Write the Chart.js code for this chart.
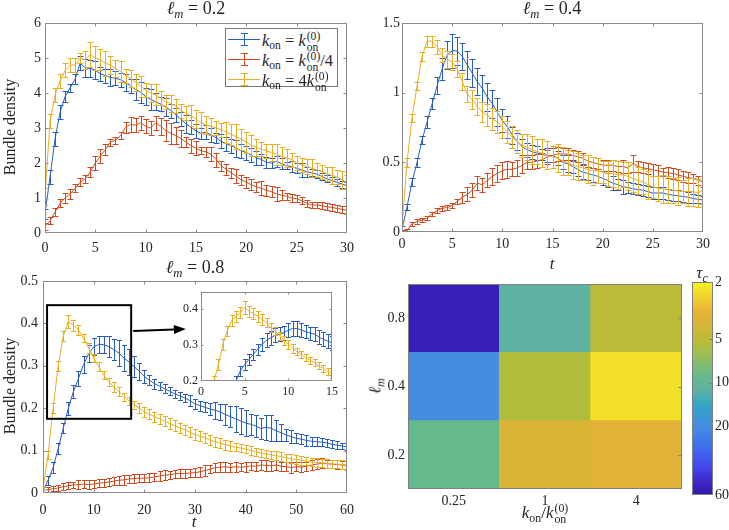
<!DOCTYPE html>
<html><head><meta charset="utf-8">
<script src="https://cdn.jsdelivr.net/npm/chart.js@4.4.1/dist/chart.umd.min.js"></script>
<style>
html,body{margin:0;padding:0;background:#fff;}
body{width:729px;height:530px;position:relative;overflow:hidden;font-family:"Liberation Serif","DejaVu Serif",serif;color:#262626;}
canvas{position:absolute;}
.lbl{position:absolute;transform:translate(-50%,-50%);white-space:nowrap;font-size:18px;line-height:1;}
.rot{transform:translate(-50%,-50%) rotate(-90deg);}
.sb{font-size:0.7em;position:relative;top:0.3em;}
.sbi{font-size:0.7em;position:relative;top:0.3em;font-style:italic;}
.sst{display:inline-block;font-size:0.7em;line-height:0.92;vertical-align:-0.42em;margin-left:1px;}
.sst span{display:block;}
#legend{position:absolute;left:225px;top:28px;width:111px;height:57px;border:1px solid #777;background:#fff;}
#legend .it{position:absolute;left:36px;font-size:16.5px;line-height:1;white-space:nowrap;}
#legend svg{position:absolute;left:2px;}
</style>
</head><body>
<canvas id="c1" width="365" height="260" style="left:0;top:0;width:365px;height:260px"></canvas>
<canvas id="c2" width="364" height="260" style="left:365px;top:0;width:364px;height:260px"></canvas>
<canvas id="c3" width="365" height="270" style="left:0;top:260px;width:365px;height:270px"></canvas>
<canvas id="c4" width="175" height="120" style="left:170px;top:280px;width:175px;height:120px"></canvas>
<canvas id="c5" width="330" height="270" style="left:365px;top:260px;width:330px;height:270px"></canvas>
<canvas id="c6" width="49" height="270" style="left:680px;top:260px;width:49px;height:270px"></canvas>

<div class="lbl" style="left:196px;top:8px"><i>ℓ</i><span class="sbi">m</span> = 0.2</div>
<div class="lbl" style="left:552px;top:8px"><i>ℓ</i><span class="sbi">m</span> = 0.4</div>
<div class="lbl" style="left:195px;top:267px"><i>ℓ</i><span class="sbi">m</span> = 0.8</div>
<div class="lbl rot" style="left:10px;top:127px;font-size:16px">Bundle density</div>
<div class="lbl rot" style="left:10px;top:386px;font-size:16px">Bundle density</div>
<div class="lbl" style="left:194px;top:521px;font-style:italic;font-size:17px">t</div>
<div class="lbl" style="left:552px;top:263px;font-style:italic;font-size:17px">t</div>
<div class="lbl rot" style="left:375px;top:386px;font-size:17px"><i>ℓ</i><span class="sbi">m</span></div>
<div class="lbl" style="left:545px;top:514px;font-size:17px"><i>k</i><span class="sb">on</span>/<i>k</i><span class="sst"><span>(0)</span><span>on</span></span></div>
<div class="lbl" style="left:702px;top:272px;font-size:17px"><i>τ</i><span class="sbi">c</span></div>

<div id="legend">
  <svg width="32" height="16" style="top:2px"><line x1="0" y1="8.5" x2="32" y2="8.5" stroke="rgb(40,95,190)"/><line x1="16.5" y1="2" x2="16.5" y2="15" stroke="rgb(40,95,190)"/><line x1="13" y1="2.5" x2="20" y2="2.5" stroke="rgb(40,95,190)"/><line x1="13" y1="14.5" x2="20" y2="14.5" stroke="rgb(40,95,190)"/></svg>
  <div class="it" style="top:2px"><i>k</i><span class="sb">on</span> = <i>k</i><span class="sst"><span>(0)</span><span>on</span></span></div>
  <svg width="32" height="16" style="top:22px"><line x1="0" y1="8.5" x2="32" y2="8.5" stroke="rgb(205,75,30)"/><line x1="16.5" y1="2" x2="16.5" y2="15" stroke="rgb(205,75,30)"/><line x1="13" y1="2.5" x2="20" y2="2.5" stroke="rgb(205,75,30)"/><line x1="13" y1="14.5" x2="20" y2="14.5" stroke="rgb(205,75,30)"/></svg>
  <div class="it" style="top:22px"><i>k</i><span class="sb">on</span> = <i>k</i><span class="sst"><span>(0)</span><span>on</span></span>/4</div>
  <svg width="32" height="16" style="top:42px"><line x1="0" y1="8.5" x2="32" y2="8.5" stroke="rgb(232,175,35)"/><line x1="16.5" y1="2" x2="16.5" y2="15" stroke="rgb(232,175,35)"/><line x1="13" y1="2.5" x2="20" y2="2.5" stroke="rgb(232,175,35)"/><line x1="13" y1="14.5" x2="20" y2="14.5" stroke="rgb(232,175,35)"/></svg>
  <div class="it" style="top:42px"><i>k</i><span class="sb">on</span> = 4<i>k</i><span class="sst"><span>(0)</span><span>on</span></span></div>
</div>

<script>
// ================= DATA =================
const tHalf = [0,0.5,1,1.5,2,2.5,3,3.5,4,4.5,5,5.5,6,6.5,7,7.5,8,8.5,9,9.5,10,10.5,11,11.5,12,12.5,13,13.5,14,14.5,15,15.5,16,16.5,17,17.5,18,18.5,19,19.5,20,20.5,21,21.5,22,22.5,23,23.5,24,24.5,25,25.5,26,26.5,27,27.5,28,28.5,29,29.5,30];
const tOne = [0,1,2,3,4,5,6,7,8,9,10,11,12,13,14,15,16,17,18,19,20,21,22,23,24,25,26,27,28,29,30,31,32,33,34,35,36,37,38,39,40,41,42,43,44,45,46,47,48,49,50,51,52,53,54,55,56,57,58,59,60];
const tInset = [0,0.5,1,1.5,2,2.5,3,3.5,4,4.5,5,5.5,6,6.5,7,7.5,8,8.5,9,9.5,10,10.5,11,11.5,12,12.5,13,13.5,14,14.5,15];

// panel l_m = 0.2
const blue02 = [0.55,1.6, 2.7,3.45, 3.9,4.15, 4.4,4.85, 4.72,4.7, 4.65,4.55, 4.5,4.45, 4.42,4.38, 4.3,4.2, 4.1,4.02, 3.9,3.82, 3.75,3.68, 3.6,3.5, 3.38,3.25, 3.12,3.02, 2.92,2.85, 2.88,2.8, 2.72,2.62, 2.55,2.5, 2.42,2.35, 2.3,2.22, 2.15,2.1, 2.02,2.0, 2.05,1.98, 1.92,1.9, 1.85,1.8, 1.75,1.72, 1.68,1.62, 1.55,1.5, 1.45,1.4, 1.35];
const blue02Err = [0.15,0.2, 0.2,0.2, 0.15,0.12, 0.15,0.2, 0.25,0.25, 0.25,0.2, 0.2,0.25, 0.2,0.2, 0.25,0.2, 0.3,0.3, 0.25,0.3, 0.25,0.2, 0.25,0.2, 0.2,0.2, 0.25,0.2, 0.2,0.15, 0.2,0.2, 0.15,0.2, 0.2,0.2, 0.25,0.2, 0.2,0.2, 0.2,0.15, 0.15,0.15, 0.15,0.15, 0.1,0.15, 0.15,0.2, 0.15,0.1, 0.12,0.1, 0.1,0.1, 0.1,0.1, 0.1];
const red02 = [0.2,0.35, 0.6,0.85, 1.0,1.12, 1.28,1.45, 1.55,1.75, 2.0,2.2, 2.38,2.6, 2.65,2.78, 3.02,3.1, 3.08,3.15, 3.05,3.0, 3.15,3.05, 2.92,2.85, 2.78,2.7, 2.6,2.5, 2.42,2.35, 2.32,2.25, 2.1,1.92, 1.82,1.72, 1.62,1.52, 1.45,1.38, 1.32,1.28, 1.22,1.18, 1.12,1.08, 1.05,1.0, 0.98,0.92, 0.85,0.8, 0.8,0.78, 0.75,0.73, 0.7,0.68, 0.65];
const red02Err = [0.1,0.1, 0.12,0.12, 0.15,0.15, 0.12,0.12, 0.12,0.15, 0.2,0.2, 0.15,0.1, 0.1,0.1, 0.15,0.2, 0.2,0.2, 0.2,0.2, 0.2,0.25, 0.3,0.3, 0.25,0.25, 0.15,0.2, 0.2,0.1, 0.15,0.2, 0.2,0.15, 0.15,0.15, 0.2,0.15, 0.15,0.15, 0.15,0.2, 0.15,0.15, 0.2,0.15, 0.1,0.12, 0.1,0.1, 0.1,0.08, 0.08,0.1, 0.1,0.1, 0.1,0.1, 0.12];
const yellow02 = [1.05,3.2, 3.95,4.35, 4.65,4.8, 4.8,5.0, 4.95,5.1, 5.0,4.95, 4.85,4.8, 4.7,4.62, 4.5,4.42, 4.3,4.2, 4.08,4.0, 3.95,3.85, 3.75,3.7, 3.62,3.5, 3.42,3.35, 3.25,3.15, 3.08,3.05, 3.0,2.95, 2.88,2.82, 2.75,2.68, 2.6,2.5, 2.45,2.4, 2.35,2.3, 2.25,2.2, 2.15,2.1, 2.0,1.95, 1.9,1.85, 1.8,1.75, 1.7,1.65, 1.6,1.52, 1.45];
const yellow02Err = [0.25,0.2, 0.2,0.2, 0.2,0.2, 0.2,0.15, 0.25,0.35, 0.35,0.3, 0.35,0.25, 0.25,0.3, 0.2,0.25, 0.25,0.3, 0.2,0.25, 0.3,0.2, 0.2,0.25, 0.2,0.2, 0.2,0.3, 0.25,0.3, 0.25,0.25, 0.2,0.2, 0.3,0.3, 0.35,0.3, 0.3,0.3, 0.25,0.2, 0.2,0.25, 0.3,0.25, 0.25,0.2, 0.2,0.2, 0.2,0.25, 0.2,0.2, 0.2,0.25, 0.2,0.25, 0.2];

// panel l_m = 0.4
const blue04 = [0.02,0.18, 0.36,0.5, 0.66,0.79, 0.92,1.05, 1.17,1.27, 1.3,1.3, 1.26,1.2, 1.14,1.08, 1.03,0.97, 0.92,0.86, 0.8,0.755, 0.695,0.65, 0.61,0.59, 0.575,0.565, 0.555,0.55, 0.55,0.53, 0.5,0.49, 0.47,0.45, 0.43,0.42, 0.41,0.4, 0.385,0.37, 0.35,0.34, 0.325,0.32, 0.31,0.305, 0.3,0.29, 0.28,0.28, 0.28,0.27, 0.265,0.26, 0.255,0.25, 0.24,0.235, 0.23];
const blue04Err = [0.02,0.02, 0.03,0.03, 0.03,0.04, 0.04,0.06, 0.08,0.1, 0.12,0.1, 0.1,0.1, 0.1,0.1, 0.1,0.1, 0.1,0.1, 0.08,0.08, 0.06,0.06, 0.06,0.05, 0.05,0.05, 0.04,0.05, 0.05,0.05, 0.05,0.06, 0.05,0.05, 0.05,0.05, 0.05,0.05, 0.05,0.05, 0.05,0.04, 0.05,0.04, 0.04,0.04, 0.04,0.04, 0.04,0.04, 0.04,0.04, 0.04,0.04, 0.04,0.04, 0.03,0.03, 0.03];
const red04 = [0.005,0.01, 0.06,0.075, 0.085,0.1, 0.13,0.155, 0.17,0.175, 0.19,0.22, 0.25,0.27, 0.3,0.35, 0.34,0.37, 0.4,0.42, 0.44,0.45, 0.45,0.46, 0.48,0.5, 0.5,0.51, 0.52,0.54, 0.55,0.56, 0.56,0.56, 0.55,0.54, 0.53,0.51, 0.5,0.49, 0.48,0.48, 0.48,0.47, 0.47,0.46, 0.49,0.47, 0.46,0.455, 0.445,0.44, 0.43,0.425, 0.42,0.41, 0.4,0.39, 0.385,0.37, 0.36];
const red04Err = [0.01,0.01, 0.015,0.015, 0.015,0.015, 0.015,0.02, 0.02,0.02, 0.02,0.02, 0.04,0.05, 0.05,0.05, 0.05,0.05, 0.06,0.06, 0.06,0.06, 0.05,0.06, 0.06,0.05, 0.05,0.05, 0.05,0.05, 0.05,0.05, 0.04,0.04, 0.04,0.04, 0.04,0.04, 0.04,0.04, 0.04,0.04, 0.04,0.04, 0.05,0.04, 0.06,0.04, 0.04,0.04, 0.04,0.04, 0.03,0.04, 0.04,0.04, 0.04,0.04, 0.03,0.03, 0.04];
const yellow04 = [0.04,0.5, 0.82,1.05, 1.26,1.37, 1.37,1.33, 1.27,1.24, 1.22,1.17, 1.08,0.99, 0.95,0.9, 0.86,0.84, 0.81,0.79, 0.755,0.72, 0.68,0.65, 0.62,0.61, 0.59,0.575, 0.565,0.55, 0.54,0.53, 0.51,0.5, 0.48,0.47, 0.46,0.45, 0.44,0.44, 0.43,0.42, 0.42,0.41, 0.41,0.4, 0.385,0.37, 0.36,0.34, 0.325,0.315, 0.31,0.305, 0.3,0.295, 0.29,0.29, 0.29,0.28, 0.3];
const yellow04Err = [0.03,0.03, 0.03,0.03, 0.03,0.04, 0.04,0.05, 0.05,0.06, 0.06,0.06, 0.06,0.06, 0.07,0.06, 0.07,0.08, 0.08,0.08, 0.08,0.08, 0.08,0.08, 0.08,0.09, 0.1,0.09, 0.1,0.1, 0.08,0.1, 0.1,0.09, 0.1,0.1, 0.09,0.1, 0.1,0.09, 0.08,0.09, 0.1,0.1, 0.09,0.1, 0.1,0.1, 0.09,0.1, 0.08,0.09, 0.1,0.1, 0.09,0.1, 0.08,0.1, 0.1,0.1, 0.1];

// panel l_m = 0.8
const blue08 = [0.005,0.03,0.06,0.105,0.153,0.2,0.239,0.27,0.303,0.328, 0.345,0.35,0.35,0.345,0.338,0.33,0.318,0.309,0.298,0.287, 0.275,0.266,0.258,0.252,0.246,0.24,0.234,0.229,0.224,0.218, 0.21,0.206,0.202,0.198,0.195,0.191,0.185,0.18,0.175,0.17, 0.165,0.162,0.158,0.152,0.155,0.153,0.147,0.142,0.137,0.133, 0.129,0.127,0.124,0.122,0.121,0.12,0.118,0.115,0.113,0.111, 0.109];
const blue08Err = [0.003,0.01,0.012,0.012,0.012,0.015,0.015,0.018,0.02,0.02, 0.02,0.02,0.02,0.025,0.025,0.03,0.03,0.03,0.025,0.02, 0.015,0.012,0.012,0.01,0.01,0.01,0.01,0.01,0.01,0.012, 0.012,0.012,0.012,0.015,0.02,0.02,0.025,0.025,0.03,0.03, 0.03,0.025,0.025,0.025,0.03,0.03,0.025,0.02,0.015,0.015, 0.012,0.012,0.012,0.01,0.01,0.01,0.01,0.01,0.01,0.008, 0.008];
const red08 = [0.005,0.008,0.01,0.012,0.015,0.017,0.019,0.02,0.021,0.02, 0.021,0.023,0.024,0.026,0.028,0.03,0.031,0.033,0.034,0.035, 0.035,0.036,0.038,0.04,0.042,0.043,0.045,0.046,0.046,0.047, 0.048,0.05,0.053,0.056,0.06,0.061,0.062,0.06,0.062,0.061, 0.062,0.064,0.063,0.066,0.065,0.064,0.066,0.063,0.062,0.06, 0.062,0.061,0.063,0.066,0.068,0.07,0.069,0.068,0.067,0.066, 0.065];
const red08Err = [0.003,0.005,0.006,0.007,0.008,0.008,0.008,0.01,0.01,0.01, 0.01,0.01,0.01,0.01,0.01,0.01,0.012,0.01,0.01,0.01, 0.01,0.01,0.01,0.012,0.012,0.01,0.01,0.01,0.01,0.01, 0.01,0.012,0.012,0.01,0.01,0.012,0.012,0.01,0.012,0.01, 0.012,0.01,0.01,0.012,0.012,0.012,0.012,0.01,0.01,0.012, 0.01,0.012,0.01,0.012,0.012,0.012,0.01,0.01,0.01,0.01, 0.01];
const yellow08 = [0.01,0.09,0.2,0.3,0.37,0.405,0.395,0.385,0.365,0.342, 0.318,0.298,0.278,0.262,0.25,0.239,0.227,0.217,0.208,0.2, 0.192,0.186,0.18,0.175,0.169,0.164,0.159,0.154,0.149,0.143, 0.138,0.134,0.13,0.125,0.121,0.117,0.114,0.111,0.108,0.106, 0.104,0.1,0.097,0.094,0.092,0.09,0.088,0.086,0.083,0.081, 0.079,0.077,0.075,0.073,0.072,0.071,0.07,0.069,0.068,0.067, 0.066];
const yellow08Err = [0.003,0.01,0.012,0.012,0.012,0.015,0.012,0.012,0.01,0.012, 0.01,0.01,0.01,0.01,0.012,0.01,0.01,0.01,0.01,0.012, 0.012,0.012,0.012,0.012,0.012,0.012,0.012,0.012,0.012,0.012, 0.012,0.012,0.012,0.012,0.012,0.012,0.012,0.012,0.01,0.01, 0.01,0.01,0.01,0.01,0.01,0.01,0.01,0.01,0.01,0.01, 0.01,0.01,0.01,0.01,0.01,0.01,0.01,0.01,0.01,0.01, 0.01];

// inset (l_m = 0.8, early times)
const blueIn = [0.005,0.015,0.03,0.05,0.07,0.1,0.13,0.165,0.2,0.228, 0.246,0.26,0.274,0.288,0.302,0.313,0.32,0.327,0.33,0.334, 0.341,0.346,0.346,0.341,0.337,0.333,0.33,0.322,0.316,0.311, 0.306];
const blueInErr = [0.005,0.008,0.01,0.01,0.01,0.012,0.012,0.012,0.015,0.015, 0.015,0.015,0.015,0.015,0.018,0.02,0.02,0.02,0.02,0.02, 0.02,0.02,0.02,0.02,0.018,0.018,0.02,0.02,0.02,0.02, 0.02];
const yellowIn = [0.01,0.05,0.1,0.2,0.246,0.302,0.339,0.367,0.38,0.39, 0.404,0.394,0.387,0.38,0.371,0.362,0.348,0.339,0.325,0.313, 0.302,0.291,0.281,0.274,0.265,0.257,0.251,0.242,0.235,0.226, 0.218];
const yellowInErr = [0.005,0.01,0.012,0.015,0.015,0.015,0.015,0.015,0.015,0.015, 0.018,0.015,0.015,0.015,0.015,0.012,0.012,0.012,0.012,0.012, 0.012,0.012,0.01,0.01,0.01,0.01,0.01,0.01,0.01,0.01, 0.01];

// heat map: crossover time tau_c
const heatCols = ['0.25','1','4'];           // k_on / k_on^(0)
const heatRows = ['0.2','0.4','0.8'];        // l_m (bottom to top)
const tauRow02 = [9, 3.8, 3.5];
const tauRow04 = [20, 5.5, 2.3];
const tauRow08 = [55, 11, 5.0];

// tick values
const ticksX30 = [0,5,10,15,20,25,30];
const ticksY02 = [0,1,2,3,4,5,6];
const ticksY04 = [0,0.5,1,1.5];
const ticksX60 = [0,10,20,30,40,50,60];
const ticksY08 = [0,0.1,0.2,0.3,0.4,0.5];
const ticksXIn = [0,5,10,15];
const ticksYIn = [0.2,0.3,0.4];
const ticksCb = [2,5,10,20,60];

// zoom-box annotation (data coordinates) and arrow
const zoomBoxT = [0.8, 17.4];
const zoomBoxY = [0.175, 0.443];
const arrowT = [17.8, 28.2];
const arrowY = [0.382, 0.387];

// ================= STYLE =================
const COL = {blue:'rgb(40,95,190)', red:'rgb(205,75,30)', yellow:'rgb(232,175,35)'};
const cmapStops = [
 [0.00,[52,24,165]],[0.06,[62,38,200]],[0.13,[68,70,238]],[0.22,[60,108,238]],
 [0.32,[70,140,225]],[0.42,[50,165,200]],[0.50,[95,178,160]],[0.56,[100,186,140]],
 [0.64,[145,190,98]],[0.71,[180,189,55]],[0.78,[208,182,55]],[0.86,[232,178,55]],
 [0.93,[240,210,45]],[1.00,[245,245,35]]
];
function cmap(f){
  f=Math.max(0,Math.min(1,f));
  for(let i=1;i<cmapStops.length;i++){
    const [p1,c1]=cmapStops[i-1],[p2,c2]=cmapStops[i];
    if(f<=p2){const u=(f-p1)/(p2-p1);return 'rgb('+c1.map((v,k)=>Math.round(v+(c2[k]-v)*u)).join(',')+')';}
  }
  return 'rgb('+cmapStops[cmapStops.length-1][1].join(',')+')';
}
const tauMin=2, tauMax=60;
function tauColor(t){ return cmap(Math.log(tauMax/t)/Math.log(tauMax/tauMin)); }

Chart.defaults.font.family = '"Liberation Serif","DejaVu Serif",serif';
Chart.defaults.font.size = 14;
Chart.defaults.color = '#262626';

// ================= PLUGINS =================
const errorBars = {
  id:'errorBars',
  afterDatasetDraw(chart, args){
    const ds = chart.data.datasets[args.index];
    if(!ds.err) return;
    const xs = chart.scales.x, ys = chart.scales.y, ca = chart.chartArea, ctx = chart.ctx;
    ctx.save();
    ctx.beginPath(); ctx.rect(ca.left, ca.top, ca.right-ca.left, ca.bottom-ca.top); ctx.clip();
    ctx.strokeStyle = ds.borderColor; ctx.lineWidth = 1;
    const c = ds.capHalf;
    ctx.beginPath();
    ds.data.forEach((p,i)=>{
      const e = ds.err[i];
      const x = Math.round(xs.getPixelForValue(p.x))+0.5;
      const y1 = Math.round(ys.getPixelForValue(p.y-e))+0.5, y2 = Math.round(ys.getPixelForValue(p.y+e))+0.5;
      ctx.moveTo(x,y1); ctx.lineTo(x,y2);
      ctx.moveTo(x-c,y1); ctx.lineTo(x+c,y1);
      ctx.moveTo(x-c,y2); ctx.lineTo(x+c,y2);
    });
    ctx.stroke(); ctx.restore();
  }
};
function boxPlugin(o){
  return {
    id:'mbox',
    beforeDatasetsDraw(chart){
      if(!o.white) return;
      const ca=chart.chartArea, ctx=chart.ctx;
      ctx.save(); ctx.fillStyle='#fff'; ctx.fillRect(ca.left,ca.top,ca.right-ca.left,ca.bottom-ca.top); ctx.restore();
    },
    afterDraw(chart){
      const ca=chart.chartArea, ctx=chart.ctx, L=o.len||3;
      const x0=Math.round(ca.left)+0.5, x1=Math.round(ca.right)-0.5, y0=Math.round(ca.top)+0.5, y1=Math.round(ca.bottom)-0.5;
      ctx.save(); ctx.strokeStyle=o.color||'#8a8a8a'; ctx.lineWidth=1;
      ctx.beginPath();
      if(o.x!==false && chart.scales.x && chart.scales.x.options.display!==false){
        const s=chart.scales.x;
        s.ticks.forEach((t,i)=>{ const p=Math.round(s.getPixelForTick(i))+0.5; if(p<x0+1||p>x1-1) return;
          ctx.moveTo(p,y1); ctx.lineTo(p,y1-L); ctx.moveTo(p,y0); ctx.lineTo(p,y0+L); });
      }
      if(o.y!==false){
        const s=chart.scales.y;
        s.ticks.forEach((t,i)=>{ const p=Math.round(s.getPixelForTick(i))+0.5; if(p<y0+1||p>y1-1) return;
          if(o.left!==false){ctx.moveTo(x0,p); ctx.lineTo(x0+L,p);}
          ctx.moveTo(x1,p); ctx.lineTo(x1-L,p); });
      }
      ctx.stroke();
      ctx.strokeRect(x0,y0,x1-x0,y1-y0);
      ctx.restore();
    }
  };
}
const zoomBox = {
  id:'zoomBox',
  afterDraw(chart){
    const xs=chart.scales.x, ys=chart.scales.y, ctx=chart.ctx;
    ctx.save(); ctx.strokeStyle='#000'; ctx.fillStyle='#000'; ctx.lineWidth=2;
    const xa=xs.getPixelForValue(zoomBoxT[0]), xb=xs.getPixelForValue(zoomBoxT[1]);
    const ya=ys.getPixelForValue(zoomBoxY[1]), yb=ys.getPixelForValue(zoomBoxY[0]);
    ctx.strokeRect(xa,ya,xb-xa,yb-ya);
    const ax=xs.getPixelForValue(arrowT[0]), ay=ys.getPixelForValue(arrowY[0]);
    const bx=xs.getPixelForValue(arrowT[1]), by=ys.getPixelForValue(arrowY[1]);
    const ang=Math.atan2(by-ay,bx-ax), hl=12, hw=4.5;
    ctx.beginPath(); ctx.moveTo(ax,ay); ctx.lineTo(bx-hl*Math.cos(ang),by-hl*Math.sin(ang)); ctx.stroke();
    ctx.beginPath(); ctx.moveTo(bx,by);
    ctx.lineTo(bx-hl*Math.cos(ang)+hw*Math.sin(ang), by-hl*Math.sin(ang)-hw*Math.cos(ang));
    ctx.lineTo(bx-hl*Math.cos(ang)-hw*Math.sin(ang), by-hl*Math.sin(ang)+hw*Math.cos(ang));
    ctx.closePath(); ctx.fill();
    ctx.restore();
  }
};
const colorbarFill = {
  id:'cbFill',
  beforeDatasetsDraw(chart){
    const ys=chart.scales.y, ca=chart.chartArea, ctx=chart.ctx;
    const pb=ys.getPixelForValue(tauMax), pt=ys.getPixelForValue(tauMin);
    const g=ctx.createLinearGradient(0,pb,0,pt);
    for(let k=0;k<=40;k++) g.addColorStop(k/40, cmap(k/40));
    ctx.save(); ctx.fillStyle=g; ctx.fillRect(ca.left,pt,ca.right-ca.left,pb-pt); ctx.restore();
  }
};

// ================= HELPERS =================
const noGrid = {display:false, drawTicks:false, tickLength:0};
function series(ts, ys, es, color, order, cap){
  return {data: ts.map((t,i)=>({x:t,y:ys[i]})), err: es, borderColor: color, backgroundColor: color,
          borderWidth:1, pointRadius:0, tension:0, order, capHalf:cap, fill:false};
}
function setTicks(arr){ return s => { s.ticks = arr.map(v=>({value:v})); }; }
function axis(min,max,ticks,pad,fit,isX,fs){
  return {type:'linear', min, max, afterBuildTicks:setTicks(ticks),
    ticks:{padding:pad, maxRotation:0, autoSkip:false, callback:v=>String(v), font:{size:fs||14}},
    grid:noGrid, border:{display:false},
    afterFit: isX ? (s=>{s.height=fit;}) : (s=>{s.width=fit;})};
}
function lineChart(id, datasets, sx, sy, padding, plugins){
  return new Chart(document.getElementById(id), {
    type:'line', data:{datasets},
    options:{responsive:false, animation:false, devicePixelRatio:1, events:[],
      layout:{padding}, plugins:{legend:{display:false}, tooltip:{enabled:false}},
      scales:{x:sx, y:sy}},
    plugins});
}

// ================= CHARTS =================
lineChart('c1', [
  series(tHalf, blue02, blue02Err, COL.blue, 3, 3),
  series(tHalf, red02, red02Err, COL.red, 2, 3),
  series(tHalf, yellow02, yellow02Err, COL.yellow, 1, 3)
], axis(0,30,ticksX30,7,27,true), axis(0,6,ticksY02,4,45,false),
 {left:0, top:23, right:18, bottom:0}, [errorBars, boxPlugin({})]);

lineChart('c2', [
  series(tHalf, blue04, blue04Err, COL.blue, 3, 3),
  series(tHalf, red04, red04Err, COL.red, 2, 3),
  series(tHalf, yellow04, yellow04Err, COL.yellow, 1, 3)
], axis(0,30,ticksX30,4,28,true), axis(0,1.5,ticksY04,2,37,false),
 {left:0, top:23, right:26, bottom:0}, [errorBars, boxPlugin({})]);

lineChart('c3', [
  series(tOne, blue08, blue08Err, COL.blue, 3, 2.5),
  series(tOne, red08, red08Err, COL.red, 2, 2.5),
  series(tOne, yellow08, yellow08Err, COL.yellow, 1, 2.5)
], axis(0,60,ticksX60,9,37,true), axis(0,0.5,ticksY08,5,43,false),
 {left:0, top:21, right:18, bottom:0}, [errorBars, boxPlugin({}), zoomBox]);

lineChart('c4', [
  series(tInset, blueIn, blueInErr, COL.blue, 3, 2.5),
  series(tInset, yellowIn, yellowInErr, COL.yellow, 1, 2.5)
], axis(0,15,ticksXIn,4,19,true,12), axis(0.2,0.447,ticksYIn,3,31,false,12),
 {left:0, top:12, right:13, bottom:0}, [errorBars, boxPlugin({white:true, len:2})]);

// heat map
const tauGrid = [tauRow02, tauRow04, tauRow08];
new Chart(document.getElementById('c5'), {
  type:'bar',
  data:{labels: heatCols, datasets: heatRows.map((r,ri)=>({label:r, data: heatCols.map(()=>1),
      backgroundColor: tauGrid[ri].map(tauColor), borderWidth:0, barPercentage:1, categoryPercentage:1}))},
  options:{responsive:false, animation:false, devicePixelRatio:1, events:[],
    layout:{padding:{left:0, top:24, right:13, bottom:0}},
    plugins:{legend:{display:false}, tooltip:{enabled:false}},
    scales:{
      x:{stacked:true, grid:noGrid, border:{display:false}, ticks:{padding:4, maxRotation:0}, afterFit:s=>{s.height=41;}},
      y:{stacked:true, min:0, max:heatRows.length, afterBuildTicks: s=>{ s.ticks = heatRows.map((r,i)=>({value:i+0.5})); },
         ticks:{padding:3, callback:v=>heatRows[Math.floor(v)]}, grid:noGrid, border:{display:false}, afterFit:s=>{s.width=43;}}
    }},
  plugins:[boxPlugin({x:false, left:false, color:'#808080'})]
});

// colour bar
new Chart(document.getElementById('c6'), {
  type:'line', data:{datasets:[]},
  options:{responsive:false, animation:false, devicePixelRatio:1, events:[],
    layout:{padding:{left:12, top:22, right:0, bottom:35}},
    plugins:{legend:{display:false}, tooltip:{enabled:false}},
    scales:{
      x:{type:'linear', display:false, min:0, max:1},
      y:{type:'logarithmic', position:'right', reverse:true, min:tauMin, max:tauMax, afterBuildTicks:setTicks(ticksCb),
         ticks:{padding:2, callback:v=>String(v)}, grid:noGrid, border:{display:false}, afterFit:s=>{s.width=16;}}
    }},
  plugins:[colorbarFill, boxPlugin({x:false, left:false, color:'#808080'})]
});
</script>
</body></html>
